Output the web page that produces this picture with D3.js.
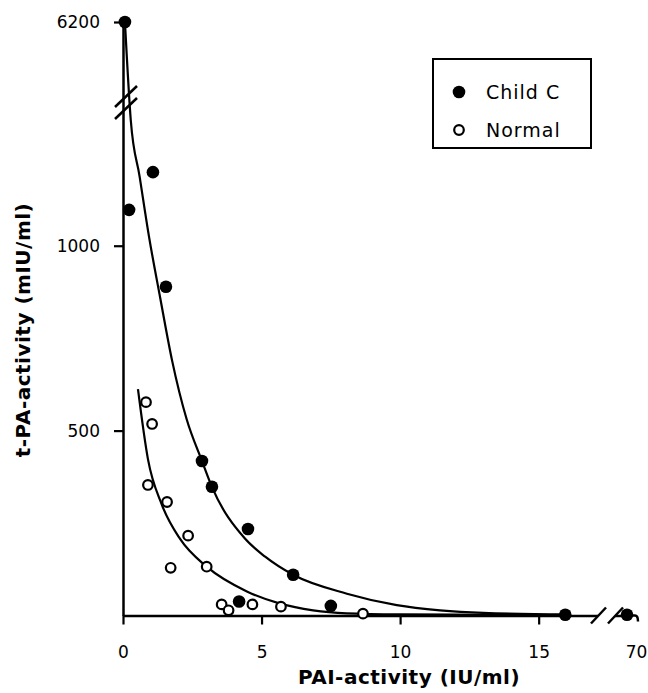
<!DOCTYPE html>
<html>
<head>
<meta charset="utf-8">
<script src="https://cdn.jsdelivr.net/npm/d3@7"></script>
<style>
  body { margin: 0; background: #fff; }
  svg { display: block; font-family: "DejaVu Sans", sans-serif; }
  .tick text { font-size: 17px; font-family: "DejaVu Sans", sans-serif; fill: #000; }
</style>
</head>
<body>
<div id="chart"></div>
<script>
var width = 648;
var height = 693;

// Child C patients (filled dots)
var childPai = [0.07, 0.22, 1.08, 1.55, 2.85, 3.21, 4.51, 6.14, 4.19, 7.5, 15.96, 70];
var childTpa = [6200, 1097, 1199, 889, 418, 348, 234, 110, 38, 26, 2, 2];

// Normal subjects (open dots)
var normalPai = [0.83, 1.05, 0.90, 1.59, 1.72, 2.35, 3.02, 3.56, 3.81, 4.67, 5.70, 8.66];
var normalTpa = [577, 518, 353, 307, 129, 216, 132, 30, 14, 30, 24, 5];

// fitted curves
var childFitX = [0.07, 0.28, 0.6, 0.94, 1.34, 1.77, 2.3, 2.85, 3.21, 4.4, 5.13, 6.14, 8.08, 9.88, 11.44, 13.0, 16.0];
var childFitY = [6200, 1340, 1187, 1024, 860, 690, 530, 418, 348, 208, 159, 110, 59, 28, 14, 7, 3];
var normalFitX = [0.54, 0.9, 1.4, 2.06, 3.02, 4.47, 5.67, 6.86, 8.07, 10, 13, 16];
var normalFitY = [612, 423, 300, 207, 132, 65, 32, 14, 6, 3, 2, 1];

var xTicks = [0, 5, 10, 15, 70];
var yTicks = [500, 1000, 6200];
var legendLabels = ["Child C", "Normal"];

var svg = d3.select("#chart")
    .append("svg")
    .attr("width", width)
    .attr("height", height);

// broken axes: piecewise linear scales
var x = d3.scaleLinear().domain([0, 16.6, 70]).range([123, 583, 627]);
var y = d3.scaleLinear().domain([0, 1340, 6200]).range([615.5, 120, 22]);

// x axis
var xAxis = svg.append("g")
    .attr("transform", "translate(0," + y(0) + ")")
    .call(d3.axisBottom(x).tickValues(xTicks).tickFormat(d3.format("d"))
      .tickSize(9).tickPadding(21).tickSizeOuter(0));
xAxis.select(".domain").attr("stroke-width", 2.5);
xAxis.selectAll(".tick line").attr("stroke-width", 2.2);
xAxis.selectAll(".tick").filter(function(d) { return d === 70; })
    .each(function() {
      d3.select(this).select("line").remove();
      d3.select(this).select("text").attr("dx", 9);
    });
// little tail after the last point
xAxis.append("path")
    .attr("d", "M" + x(70) + ",0 L" + (x(70) + 8) + ",0 q3,0 3,6")
    .attr("fill", "none").attr("stroke", "#000").attr("stroke-width", 2.5);

// y axis
var yAxis = svg.append("g")
    .attr("transform", "translate(" + x(0) + ",0)")
    .call(d3.axisLeft(y).tickValues(yTicks).tickFormat(d3.format("d"))
      .tickSize(9).tickPadding(14).tickSizeOuter(0));
yAxis.select(".domain").attr("stroke-width", 2.5);
yAxis.selectAll(".tick line").attr("stroke-width", 2.2);

// fitted curves
var line = d3.line()
    .x(function(d) { return x(d[0]); })
    .y(function(d) { return y(d[1]); })
    .curve(d3.curveMonotoneX);

svg.append("path")
    .datum(d3.zip(childFitX, childFitY))
    .attr("d", line)
    .attr("fill", "none")
    .attr("stroke", "#000")
    .attr("stroke-width", 2.2);

svg.append("path")
    .datum(d3.zip(normalFitX, normalFitY))
    .attr("d", line)
    .attr("fill", "none")
    .attr("stroke", "#000")
    .attr("stroke-width", 2.2);

// x axis break
var bx = (x(16.6) + x(70)) / 2 + 1;
var by = y(0);
svg.append("rect")
    .attr("x", bx - 8).attr("y", by - 4)
    .attr("width", 17).attr("height", 8)
    .attr("fill", "#fff");
[-8, 9].forEach(function(o) {
  svg.append("line")
      .attr("x1", bx + o - 7).attr("y1", by + 8)
      .attr("x2", bx + o + 8).attr("y2", by - 8)
      .attr("stroke", "#000").attr("stroke-width", 2.5);
});

// y axis break
var bY = y(1340) - 17;
var bX = x(0) + 3;
[-6, 6].forEach(function(o) {
  svg.append("line")
      .attr("x1", bX - 11).attr("y1", bY + o + 10)
      .attr("x2", bX + 11).attr("y2", bY + o - 11)
      .attr("stroke", "#000").attr("stroke-width", 2.5);
});

// points
svg.selectAll(".child")
    .data(d3.zip(childPai, childTpa))
    .enter()
    .append("circle")
    .attr("class", "child")
    .attr("cx", function(d) { return x(d[0]); })
    .attr("cy", function(d) { return y(d[1]); })
    .attr("r", 6.3)
    .attr("fill", "#000");

svg.selectAll(".normal")
    .data(d3.zip(normalPai, normalTpa))
    .enter()
    .append("circle")
    .attr("class", "normal")
    .attr("cx", function(d) { return x(d[0]); })
    .attr("cy", function(d) { return y(d[1]); })
    .attr("r", 4.8)
    .attr("fill", "#fff")
    .attr("stroke", "#000")
    .attr("stroke-width", 2.2);

// legend
var legend = svg.append("g").attr("transform", "translate(433,59)");
legend.append("rect")
    .attr("width", 158).attr("height", 89)
    .attr("fill", "#fff").attr("stroke", "#000").attr("stroke-width", 2);
legendLabels.forEach(function(label, i) {
  var g = legend.append("g").attr("transform", "translate(26," + (33 + i * 38) + ")");
  if (i === 0) {
    g.append("circle").attr("r", 6.3).attr("fill", "#000");
  } else {
    g.append("circle").attr("r", 4.8).attr("fill", "#fff")
        .attr("stroke", "#000").attr("stroke-width", 2.2);
  }
  g.append("text")
      .attr("x", 27).attr("y", 7)
      .attr("font-size", 19)
      .attr("letter-spacing", 1)
      .text(label);
});

// axis titles
svg.append("text")
    .attr("x", 409).attr("y", 684)
    .attr("text-anchor", "middle")
    .attr("font-size", 20)
    .attr("font-weight", "bold")
    .attr("letter-spacing", 0.5)
    .text("PAI-activity (IU/ml)");

svg.append("text")
    .attr("transform", "translate(30,330) rotate(-90)")
    .attr("text-anchor", "middle")
    .attr("font-size", 20)
    .attr("font-weight", "bold")
    .attr("letter-spacing", 0.5)
    .text("t-PA-activity (mIU/ml)");
</script>
</body>
</html>
